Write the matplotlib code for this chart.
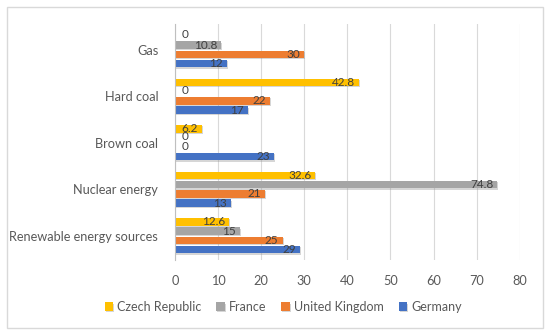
import numpy as np
import matplotlib
matplotlib.use("Agg")
import matplotlib.pyplot as plt
from matplotlib.patches import Rectangle
import matplotlib.patheffects as pe

categories = ["Renewable energy sources", "Nuclear energy", "Brown coal", "Hard coal", "Gas"]
series_names = ["Czech Republic", "France", "United Kingdom", "Germany"]
czech = [12.6, 32.6, 6.2, 42.8, 0]
france = [15, 74.8, 0, 0, 10.8]
uk = [25, 21, 0, 22, 30]
germany = [29, 13, 23, 17, 12]
colors = ["#FFC000", "#A5A5A5", "#ED7D31", "#4472C4"]

plt.rcParams['font.family'] = ['Lato', 'DejaVu Sans']

fig = plt.figure(figsize=(5.5, 3.35), dpi=100)
ax = fig.add_axes([0.318, 0.224, 0.627, 0.704])

y = np.arange(len(categories))
h = 0.2
series = [czech, france, uk, germany]
# Czech on top of each group, Germany at the bottom
offsets = [1.5 * h, 0.5 * h, -0.5 * h, -1.5 * h]
shadow = [pe.SimplePatchShadow(offset=(0.7, -0.9), shadow_rgbFace='#8C8C8C', alpha=0.35), pe.Normal()]

for vals, off, col, name in zip(series, offsets, colors, series_names):
    bars = ax.barh(y + off, vals, height=h * 0.8, color=col, label=name, zorder=3)
    for b in bars:
        b.set_path_effects(shadow)
    for yi, v in zip(y + off, vals):
        if v == 0:
            ax.annotate("0", xy=(0, yi), xytext=(5, 1), textcoords="offset points",
                        ha="left", va="center", fontsize=8.5, color="#404040", zorder=4)
        else:
            ax.annotate(f"{v:g}", xy=(v, yi), xytext=(-3, 0), textcoords="offset points",
                        ha="right", va="center", fontsize=8.5, color="#404040", zorder=4)

ax.set_xlim(0, 80)
ax.set_xticks(range(0, 81, 10))
ax.set_ylim(-0.52, 4.55)
ax.set_yticks(y)
ax.set_yticklabels(categories)
ax.tick_params(axis="both", length=0, labelsize=9.2, colors="#595959")
ax.tick_params(axis="y", pad=12)
ax.tick_params(axis="x", pad=11)
ax.grid(axis="x", color="#D9D9D9", linewidth=0.8, zorder=0)
for s in ["top", "right", "bottom"]:
    ax.spines[s].set_visible(False)
ax.spines["left"].set_color("#BFBFBF")
ax.spines["left"].set_zorder(3.5)

ax.legend(loc="center", bbox_to_anchor=(0.515, 0.084), bbox_transform=fig.transFigure,
          ncol=4, frameon=False, fontsize=9, handlelength=0.65, handleheight=0.65,
          handletextpad=0.35, columnspacing=1.2, labelcolor="#595959")

fig.patches.append(Rectangle((7 / 550, 7 / 335), 536 / 550, 321 / 335, transform=fig.transFigure,
                             fill=False, edgecolor="#D9D9D9", linewidth=1))

fig.savefig("out.png", dpi=100, facecolor="white")
